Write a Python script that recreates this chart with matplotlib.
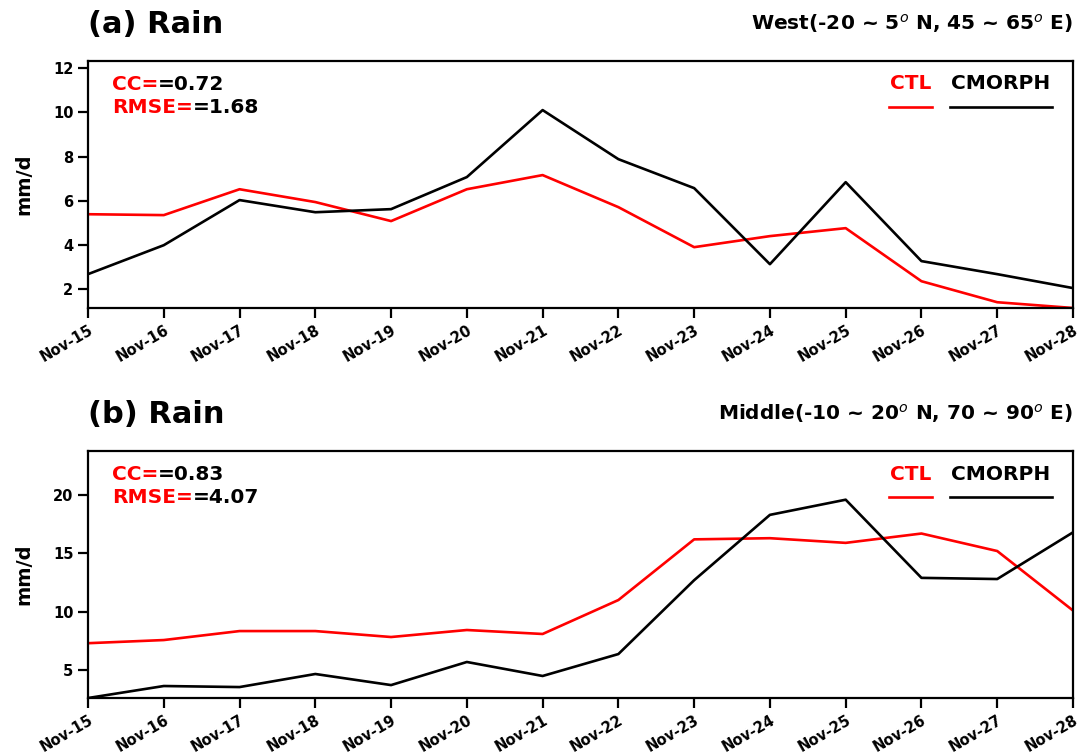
import numpy as np
import matplotlib
matplotlib.use('Agg')
from matplotlib import pyplot as plt

# daily rain (mm/d), Nov-15 .. Nov-28
days = ['Nov-%d' % d for d in range(15, 29)]

west_ctl = [5.39, 5.35, 6.52, 5.94, 5.08, 6.52, 7.16, 5.71, 3.90, 4.40, 4.76, 2.36, 1.41, 1.15]
west_obs = [2.68, 3.99, 6.03, 5.48, 5.62, 7.07, 10.1, 7.88, 6.57, 3.13, 6.84, 3.27, 2.68, 2.05]

mid_ctl = [7.30, 7.57, 8.34, 8.34, 7.83, 8.43, 8.09, 11.0, 16.2, 16.3, 15.9, 16.7, 15.2, 10.1]
mid_obs = [2.60, 3.63, 3.54, 4.66, 3.71, 5.69, 4.49, 6.37, 12.7, 18.3, 19.6, 12.9, 12.8, 16.8]

titles = ['(a) Rain', '(b) Rain']
regions = ['West(-20 ~ 5$^o$ N, 45 ~ 65$^o$ E)', 'Middle(-10 ~ 20$^o$ N, 70 ~ 90$^o$ E)']
cc_vals = ['0.72', '0.83']
rmse_vals = ['1.68', '4.07']
yticks = [[2, 4, 6, 8, 10, 12], [5, 10, 15, 20]]
ylims = [(1.15, 12.32), (2.6, 23.77)]

plt.rcParams['font.family'] = 'DejaVu Sans'
plt.rcParams['font.weight'] = 'bold'
plt.rcParams['mathtext.fontset'] = 'custom'
plt.rcParams['mathtext.it'] = 'DejaVu Sans:italic:normal'
plt.rcParams['mathtext.rm'] = 'DejaVu Sans:bold'

fig = plt.figure(figsize=(10.88, 7.53), dpi=100)
ax_a = fig.add_axes([0.0809, 0.5910, 0.9053, 0.328])
ax_b = fig.add_axes([0.0809, 0.0730, 0.9053, 0.328])

x = np.arange(len(days))
for i, (ax, ctl, obs) in enumerate(zip([ax_a, ax_b], [west_ctl, mid_ctl], [west_obs, mid_obs])):
    ax.plot(x, ctl, color='red', lw=1.9)
    ax.plot(x, obs, color='black', lw=1.9)
    ax.set_xlim(0, len(days) - 1)
    ax.set_ylim(*ylims[i])
    ax.set_xticks(x)
    ax.set_xticklabels(days, rotation=30, ha='right', rotation_mode='anchor',
                       fontsize=10.5, fontweight='bold')
    ax.set_yticks(yticks[i])
    ax.set_yticklabels([str(v) for v in yticks[i]], fontsize=10.5, fontweight='bold')
    ax.tick_params(width=1.6, length=7)
    for s in ax.spines.values():
        s.set_linewidth(1.6)
    ax.set_ylabel('mm/d', fontsize=14, fontweight='bold')
    ax.yaxis.set_label_coords(-0.055, 0.5)

    # panel title on the left, region box on the right
    ax.text(0.0, 1.146, titles[i], fontsize=22, fontweight='bold',
            transform=ax.transAxes, ha='left', va='center')
    ax.text(1.0, 1.150, regions[i], fontsize=14.5, fontweight='bold',
            transform=ax.transAxes, ha='right', va='center')

    # statistics in the upper left
    t = ax.text(0.024, 0.905, 'CC=', color='red', fontsize=14.5, fontweight='bold',
                transform=ax.transAxes, va='center')
    ax.annotate('=' + cc_vals[i], xycoords=t, xy=(1, 0.5), va='center',
                fontsize=14.5, fontweight='bold', color='black')
    t = ax.text(0.024, 0.812, 'RMSE=', color='red', fontsize=14.5, fontweight='bold',
                transform=ax.transAxes, va='center')
    ax.annotate('=' + rmse_vals[i], xycoords=t, xy=(1, 0.5), va='center',
                fontsize=14.5, fontweight='bold', color='black')

    # legend: names above their line samples
    ax.text(0.835, 0.907, 'CTL', color='red', fontsize=14.5, fontweight='bold',
            transform=ax.transAxes, ha='center', va='center')
    ax.plot([0.813, 0.857], [0.814, 0.814], color='red', lw=1.9, transform=ax.transAxes)
    ax.text(0.927, 0.907, 'CMORPH', color='black', fontsize=14.5, fontweight='bold',
            transform=ax.transAxes, ha='center', va='center')
    ax.plot([0.875, 0.979], [0.814, 0.814], color='black', lw=1.9, transform=ax.transAxes)

fig.savefig('out.png', dpi=100)
